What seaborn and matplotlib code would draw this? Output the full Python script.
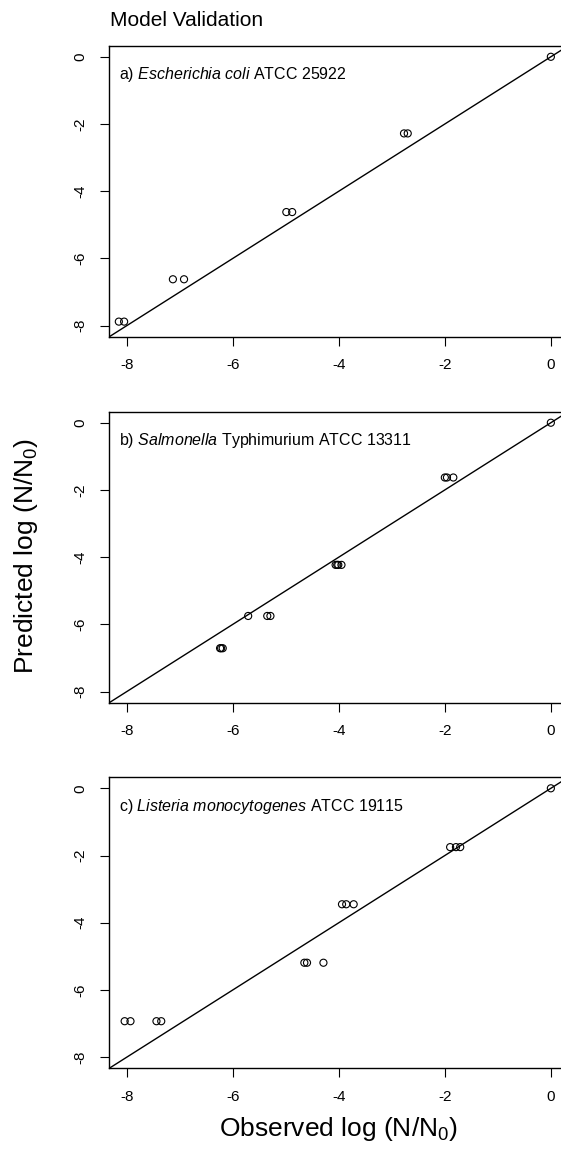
import matplotlib
matplotlib.use("Agg")
import matplotlib.pyplot as plt
import pandas as pd
import seaborn as sns

""" Model validation: predicted vs observed log reductions for three strains """

# panel a) Escherichia coli ATCC 25922
obs_a = [0, -2.77, -2.70, -4.99, -4.88, -7.13, -6.92, -8.15, -8.05]
pred_a = [0, -2.28, -2.28, -4.62, -4.62, -6.62, -6.62, -7.88, -7.88]

# panel b) Salmonella Typhimurium ATCC 13311
obs_b = [0, -2.00, -1.96, -1.84, -4.06, -4.03, -4.01, -3.95,
         -5.71, -5.35, -5.29, -6.24, -6.22, -6.19]
pred_b = [0, -1.63, -1.63, -1.63, -4.23, -4.23, -4.23, -4.23,
          -5.75, -5.75, -5.75, -6.71, -6.71, -6.71]

# panel c) Listeria monocytogenes ATCC 19115
obs_c = [0, -1.90, -1.79, -1.71, -3.94, -3.86, -3.72,
         -4.65, -4.60, -4.29, -8.04, -7.93, -7.44, -7.35]
pred_c = [0, -1.75, -1.75, -1.75, -3.45, -3.45, -3.45,
          -5.19, -5.19, -5.19, -6.93, -6.93, -6.93, -6.93]

panel_labels = [
    r"a) $\mathit{Escherichia\ coli}$ ATCC 25922",
    r"b) $\mathit{Salmonella}$ Typhimurium ATCC 13311",
    r"c) $\mathit{Listeria\ monocytogenes}$ ATCC 19115",
]
tick_values = [-8, -6, -4, -2, 0]

sns.set_theme(style="ticks")
plt.rcParams["font.family"] = ["Liberation Sans", "DejaVu Sans"]
plt.rcParams["mathtext.fontset"] = "custom"
plt.rcParams["mathtext.rm"] = "Liberation Sans"
plt.rcParams["mathtext.it"] = "Liberation Sans:italic"
plt.rcParams["text.color"] = "black"
plt.rcParams["axes.labelcolor"] = "black"


def _plot_panel(ax, obs, pred, label):
    df = pd.DataFrame({"observed": obs, "predicted": pred})
    ax.axline((0, 0), slope=1, color="black", lw=1.0, zorder=1)
    sns.scatterplot(data=df, x="observed", y="predicted", ax=ax,
                    marker="o", s=26, facecolors="none",
                    edgecolor="black", linewidth=0.8, zorder=2)
    ax.set_xlim(-8.33, 0.31)
    ax.set_ylim(-8.33, 0.33)
    ax.set_xticks(tick_values)
    ax.set_yticks(tick_values)
    ax.set_xticklabels([str(v) for v in tick_values])
    ax.set_yticklabels([str(v) for v in tick_values], rotation=90, va="center")
    ax.tick_params(direction="out", length=6.5, width=0.8, pad=9,
                   labelsize=11, colors="black")
    for sp in ax.spines.values():
        sp.set_linewidth(1.0)
        sp.set_color("black")
    ax.set_xlabel("")
    ax.set_ylabel("")
    ax.text(0.022, 0.90, label, transform=ax.transAxes, fontsize=11.5,
            va="center", ha="left", color="black")


fig = plt.figure(figsize=(5.61, 11.54), dpi=100)
left, width, height = 0.1948, 0.8164, 0.2522
bottoms = [0.7082, 0.3911, 0.0743]
data = [(obs_a, pred_a), (obs_b, pred_b), (obs_c, pred_c)]

for i, (bottom, (obs, pred)) in enumerate(zip(bottoms, data)):
    ax = fig.add_axes([left, bottom, width, height])
    _plot_panel(ax, obs, pred, panel_labels[i])

fig.text(110 / 561, 1 - 20 / 1154, "Model Validation", fontsize=15,
         ha="left", va="center", color="black")
fig.text(338 / 561, 1 - 1129 / 1154, r"Observed log (N/N$_0$)", fontsize=19,
         ha="center", va="center", color="black")
fig.text(26 / 561, 1 - 556 / 1154, r"Predicted log (N/N$_0$)", fontsize=19,
         ha="center", va="center", rotation=90, color="black")

fig.savefig("out.png", dpi=100, facecolor="white")
